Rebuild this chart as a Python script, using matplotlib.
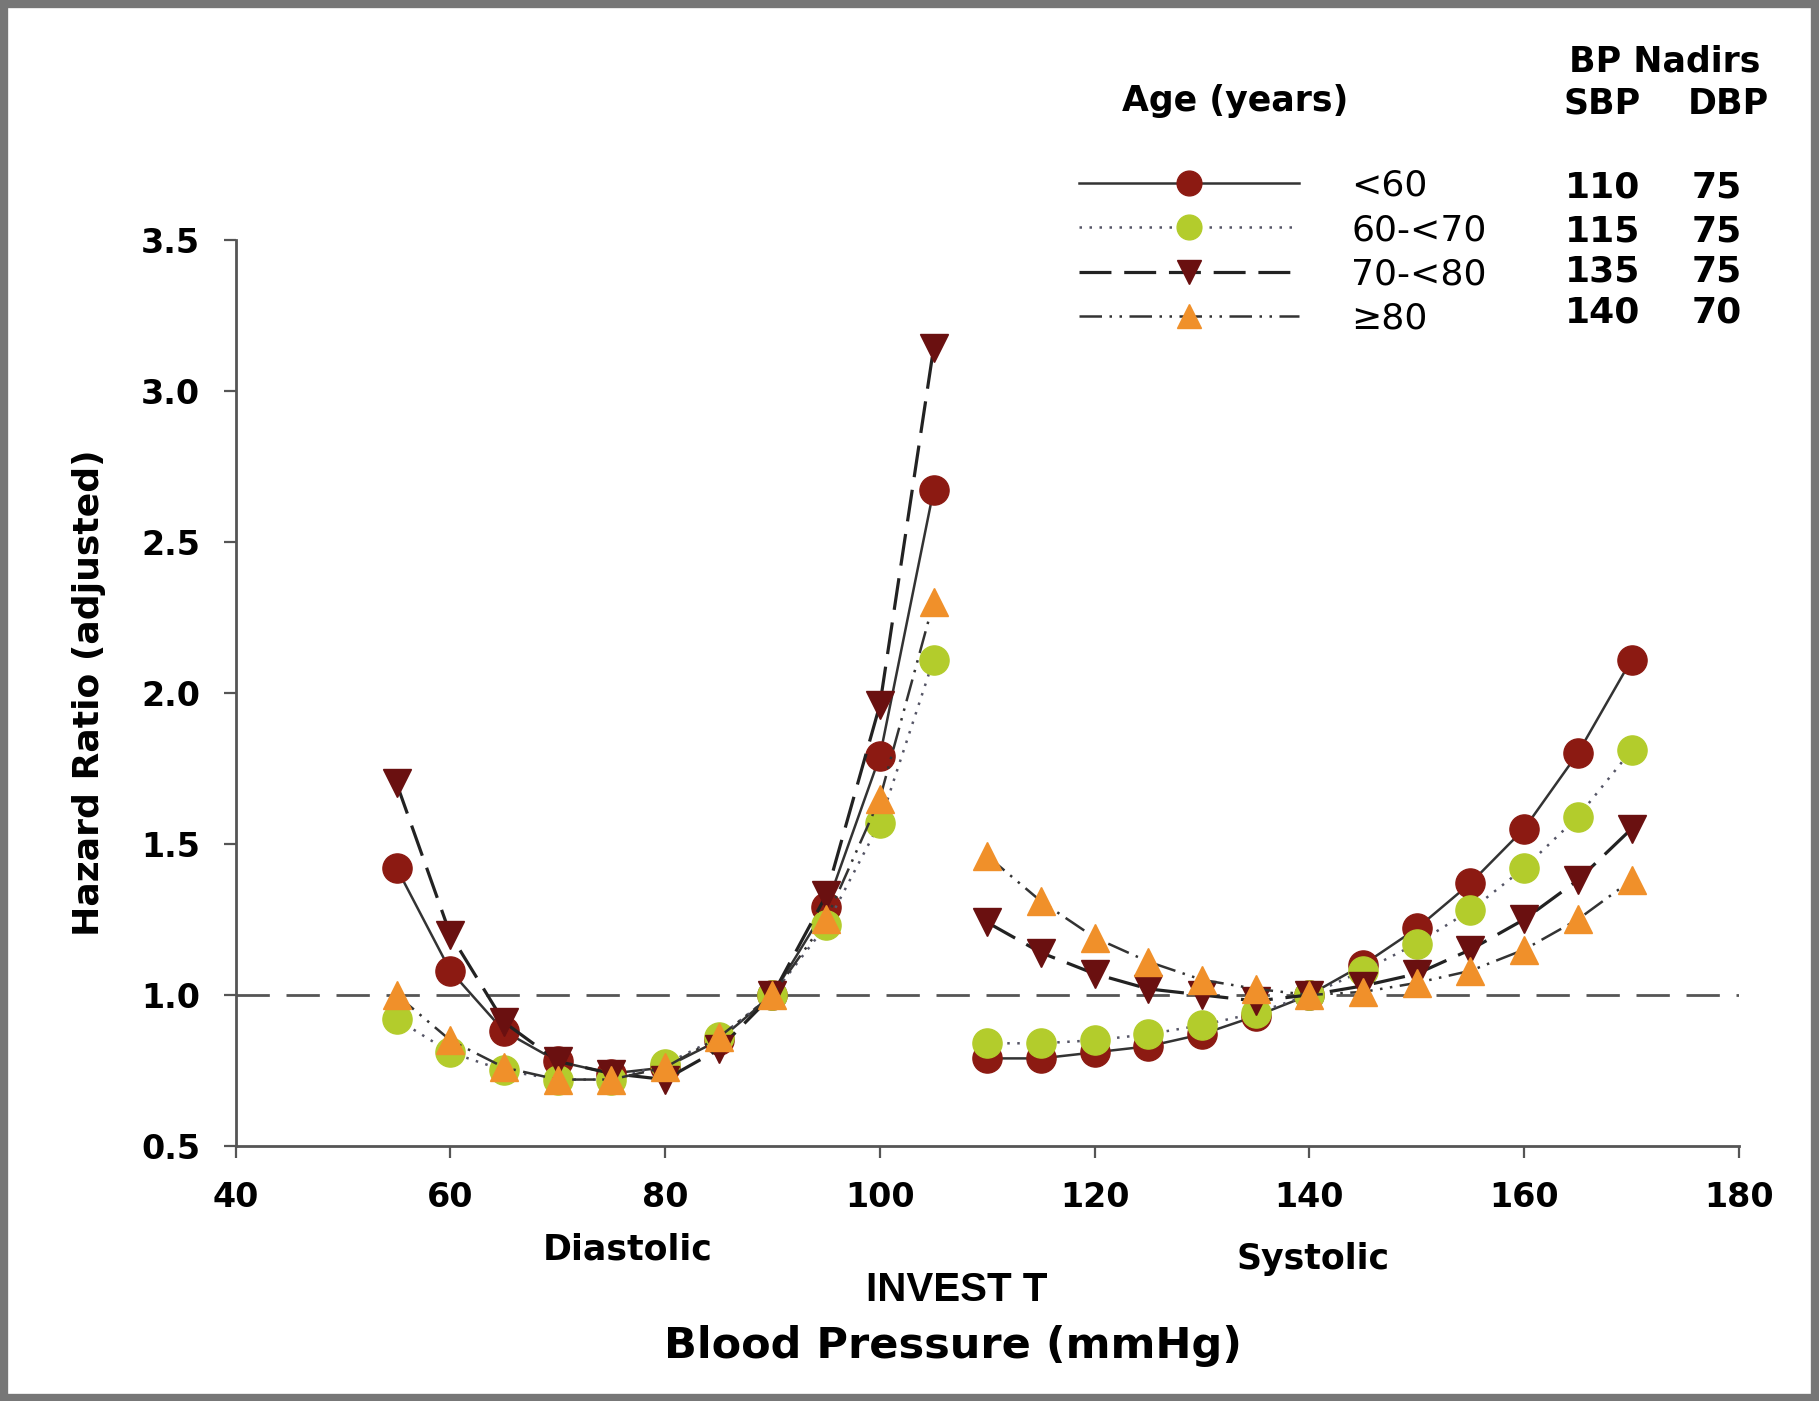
import matplotlib
matplotlib.use('Agg')
import matplotlib.pyplot as plt
import matplotlib.patches as patches

plt.rcParams['font.family'] = ['DejaVu Sans']

# Diastolic and systolic blood pressure points (mmHg)
dbp = [55, 60, 65, 70, 75, 80, 85, 90, 95, 100, 105]
sbp = [110, 115, 120, 125, 130, 135, 140, 145, 150, 155, 160, 165, 170]

age_groups = ['<60', '60-<70', '70-<80', '\u226580']

# hazard ratios, diastolic
hr_dbp_lt60 = [1.42, 1.08, 0.88, 0.78, 0.74, 0.76, 0.85, 1.00, 1.29, 1.79, 2.67]
hr_dbp_60_70 = [0.92, 0.81, 0.75, 0.72, 0.72, 0.77, 0.86, 1.00, 1.23, 1.57, 2.11]
hr_dbp_70_80 = [1.70, 1.20, 0.91, 0.78, 0.74, 0.72, 0.82, 1.00, 1.33, 1.96, 3.14]
hr_dbp_ge80 = [1.00, 0.85, 0.76, 0.72, 0.72, 0.76, 0.86, 1.00, 1.25, 1.65, 2.30]

# hazard ratios, systolic
hr_sbp_lt60 = [0.79, 0.79, 0.81, 0.83, 0.87, 0.93, 1.00, 1.10, 1.22, 1.37, 1.55, 1.80, 2.11]
hr_sbp_60_70 = [0.84, 0.84, 0.85, 0.87, 0.90, 0.94, 1.00, 1.08, 1.17, 1.28, 1.42, 1.59, 1.81]
hr_sbp_70_80 = [1.24, 1.14, 1.07, 1.02, 1.00, 0.98, 1.00, 1.03, 1.07, 1.15, 1.25, 1.38, 1.55]
hr_sbp_ge80 = [1.46, 1.31, 1.19, 1.11, 1.05, 1.02, 1.00, 1.01, 1.04, 1.08, 1.15, 1.25, 1.38]

# BP nadirs per age group
nadir_sbp = [110, 115, 135, 140]
nadir_dbp = [75, 75, 75, 70]

yticks = [0.5, 1.0, 1.5, 2.0, 2.5, 3.0, 3.5]
xticks = [40, 60, 80, 100, 120, 140, 160, 180]

styles = [
    dict(marker='o', ms=21, color='#8c1a12', ls='-', lc='#333333', lw=1.8),
    dict(marker='o', ms=21, color='#b3cc2c', ls=(0, (1, 3)), lc='#556', lw=1.8),
    dict(marker='v', ms=20, color='#6a1010', ls=(0, (10, 4)), lc='#222222', lw=2.3),
    dict(marker='^', ms=20, color='#f0902a', ls=(0, (9, 3, 1, 3, 1, 3)), lc='#333333', lw=1.8),
]
dbp_series = [hr_dbp_lt60, hr_dbp_60_70, hr_dbp_70_80, hr_dbp_ge80]
sbp_series = [hr_sbp_lt60, hr_sbp_60_70, hr_sbp_70_80, hr_sbp_ge80]

fig = plt.figure(figsize=(18.19, 14.01), dpi=100, facecolor='white')
ax = fig.add_axes([0.1295, 0.182, 0.8265, 0.647])

ax.axhline(1.0, color='#555555', lw=2.0, ls=(0, (12, 6)), zorder=1)

handles = []
for st, yd, ys in zip(styles, dbp_series, sbp_series):
    kw = dict(ls=st['ls'], color=st['lc'], lw=st['lw'], marker=st['marker'],
              markersize=st['ms'], markerfacecolor=st['color'], markeredgecolor=st['color'], zorder=3)
    h, = ax.plot(dbp, yd, **kw)
    ax.plot(sbp, ys, **kw)
    handles.append(h)

ax.set_xlim(40, 180)
ax.set_ylim(0.5, 3.5)
ax.set_xticks(xticks)
ax.set_yticks(yticks)
ax.set_yticklabels(['%.1f' % v for v in yticks])
for s in ['top', 'right']:
    ax.spines[s].set_visible(False)
for s in ['left', 'bottom']:
    ax.spines[s].set_color('#555555')
    ax.spines[s].set_linewidth(2.0)
ax.tick_params(axis='both', direction='out', length=8.5, width=1.6, color='#555555', labelsize=24)
ax.tick_params(axis='x', pad=17)
ax.tick_params(axis='y', pad=17)
for lab in ax.get_xticklabels() + ax.get_yticklabels():
    lab.set_fontweight('bold')

ax.set_ylabel('Hazard Ratio (adjusted)', fontsize=26, fontweight='bold')
ax.yaxis.set_label_coords(-0.0865, 0.5)

leg = fig.legend(handles, age_groups, loc='upper left', bbox_to_anchor=(0.593, 0.8794),
                 frameon=False, fontsize=26, handlelength=6.1, handletextpad=1.45,
                 labelspacing=0.28, borderpad=0, borderaxespad=0, numpoints=1, markerscale=0.85)

# BP nadir table
row_y = [0.866, 0.835, 0.806, 0.777]
for y, s, d in zip(row_y, nadir_sbp, nadir_dbp):
    fig.text(0.881, y, str(s), ha='center', va='center', fontsize=26, fontweight='bold')
    fig.text(0.944, y, str(d), ha='center', va='center', fontsize=26, fontweight='bold')

fig.text(0.679, 0.928, 'Age (years)', ha='center', va='center', fontsize=25, fontweight='bold')
fig.text(0.915, 0.956, 'BP Nadirs', ha='center', va='center', fontsize=25, fontweight='bold')
fig.text(0.881, 0.926, 'SBP', ha='center', va='center', fontsize=25, fontweight='bold')
fig.text(0.950, 0.926, 'DBP', ha='center', va='center', fontsize=25, fontweight='bold')

fig.text(0.345, 0.108, 'Diastolic', ha='center', va='center', fontsize=25, fontweight='bold')
fig.text(0.722, 0.101, 'Systolic', ha='center', va='center', fontsize=25, fontweight='bold')
fig.text(0.526, 0.079, 'INVEST T', ha='center', va='center', fontsize=29, fontweight='bold',
         family=['Liberation Sans Narrow', 'Liberation Sans', 'DejaVu Sans'])
fig.text(0.524, 0.039, 'Blood Pressure (mmHg)', ha='center', va='center', fontsize=31,
         fontweight='bold')

# grey frame round the picture
frame = patches.Rectangle((0.002, 0.002), 0.996, 0.995, transform=fig.transFigure,
                          fill=False, edgecolor='#777777', linewidth=6)
fig.add_artist(frame)

fig.savefig('out.png', dpi=100, facecolor='white')
